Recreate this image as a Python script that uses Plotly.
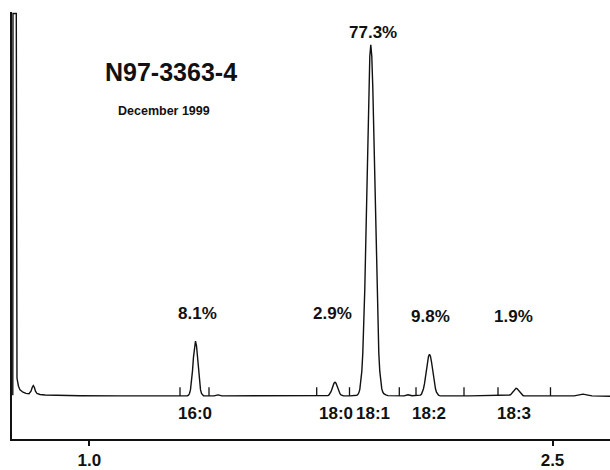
import plotly.graph_objects as go

# ---- Chromatogram trace (retention time in min, detector response in arbitrary units) ----
time_min = [
    0.7523, 0.7529, 0.7636, 0.7642, 0.7659, 0.7707, 0.7756, 0.7853, 0.7950, 0.8047,
    0.8112, 0.8154, 0.8187, 0.8219, 0.8258, 0.8306, 0.8403, 0.8565, 0.9051, 0.9699,
    1.0994, 1.1966, 1.3148,
    # 16:0
    1.3180, 1.3212, 1.3245, 1.3277, 1.3310, 1.3342, 1.3374, 1.3407, 1.3439, 1.3472,
    1.3504, 1.3536, 1.3569, 1.3601, 1.3634, 1.3666, 1.3698,
    1.4038, 1.4168, 1.4297, 1.5852, 1.6823, 1.7697,
    # 18:0
    1.7730, 1.7762, 1.7795, 1.7827, 1.7859, 1.7892, 1.7924, 1.7957, 1.7989, 1.8021,
    1.8054, 1.8086, 1.8118, 1.8151, 1.8183, 1.8232, 1.8442, 1.8604,
    # 18:1
    1.8663, 1.8695, 1.8728, 1.8760, 1.8792, 1.8825, 1.8857, 1.8889, 1.8922, 1.8954,
    1.8987, 1.9019, 1.9051, 1.9084, 1.9116, 1.9148, 1.9181, 1.9213, 1.9246, 1.9278,
    1.9310, 1.9343, 1.9375, 1.9407, 1.9440, 1.9472, 1.9505, 1.9537, 1.9602, 1.9673,
    2.0191, 2.0320, 2.0450,
    # 18:2
    2.0693, 2.0725, 2.0758, 2.0790, 2.0822, 2.0855, 2.0887, 2.0920, 2.0952, 2.0984,
    2.1017, 2.1049, 2.1081, 2.1114, 2.1146, 2.1179, 2.1211, 2.1243, 2.1276, 2.1308,
    2.1341, 2.1389, 2.2328,
    # 18:3
    2.3559, 2.3591, 2.3624, 2.3656, 2.3688, 2.3721, 2.3753, 2.3786, 2.3818, 2.3850,
    2.3883, 2.3915, 2.3947, 2.3980, 2.4012, 2.4045, 2.4077, 2.4126,
    2.5243, 2.5697, 2.5826, 2.5988, 2.6150, 2.6279, 2.6862,
]
response = [
    0.7, 384.2, 384.2, 97.7, 17.7, 9.7, 6.0, 3.7, 2.5, 2.2,
    4.7, 8.7, 10.4, 8.7, 4.7, 2.4, 1.4, 0.9, 0.4, 0.2,
    0.0, 0.0, 0.0,
    0.2, 0.8, 2.4, 6.3, 13.7, 25.2, 38.9, 50.4, 55.0, 50.4,
    38.9, 25.2, 13.7, 6.3, 2.4, 0.8, 0.2,
    0.0, 1.0, 0.0, 0.0, 0.0, 0.0,
    0.4, 1.0, 2.2, 4.2, 7.0, 10.2, 12.7, 13.7, 12.7, 10.2,
    7.0, 4.2, 2.2, 1.0, 0.4, 0.0, 0.0, 0.3,
    0.6, 1.4, 3.1, 6.6, 13.2, 24.6, 43.0, 70.5, 108.0, 155.0,
    208.5, 262.4, 309.2, 341.3, 352.7, 341.3, 309.2, 262.4, 208.5, 155.0,
    108.0, 70.5, 43.0, 24.6, 13.2, 7.0, 3.8, 2.2, 1.0, 0.3,
    0.0, 1.2, 0.2,
    0.3, 0.8, 1.8, 3.8, 7.2, 12.3, 19.1, 26.9, 34.3, 39.7,
    41.7, 39.7, 34.3, 26.9, 19.1, 12.3, 7.2, 3.8, 1.8, 0.8,
    0.3, 0.0, 0.0,
    0.2, 0.4, 0.9, 1.7, 3.0, 4.5, 6.1, 7.3, 7.7, 7.3,
    6.1, 4.5, 3.0, 1.7, 0.9, 0.4, 0.2, 0.0,
    0.0, 0.0, 0.8, 1.8, 0.8, 0.0, -0.3,
]

# integration event marks on the baseline
event_times = [1.2937, 1.3876, 1.7364, 1.8426, 2.0039, 2.0580, 2.2134, 2.3235, 2.4935]
event_height = 8.7

# peak names and percentages
peak_names = ["16:0", "18:0", "18:1", "18:2", "18:3"]
name_times = [1.3423, 1.7973, 1.9203, 2.1000, 2.3753]
name_level = -17.8
pct_labels = ["8.1%", "2.9%", "77.3%", "9.8%", "1.9%"]
pct_times = [1.3488, 1.7860, 1.9187, 2.1033, 2.3721]
pct_levels = [82.7, 82.7, 365.0, 79.7, 79.7]

sample_title = "N97-3363-4"
sample_date = "December 1999"

x_ticks = [1.0, 2.5]
x_tick_text = ["1.0", "2.5"]

INK = "#111111"
FONT = "Liberation Sans, Arial, sans-serif"

fig = go.Figure()
fig.add_trace(go.Scatter(
    x=time_min, y=response, mode="lines",
    line=dict(color=INK, width=1.4), hoverinfo="skip", showlegend=False,
))

ex, ey = [], []
for t in event_times:
    ex += [t, t, None]
    ey += [0, event_height, None]
fig.add_trace(go.Scatter(
    x=ex, y=ey, mode="lines", line=dict(color=INK, width=1.3),
    hoverinfo="skip", showlegend=False,
))

for name, t in zip(peak_names, name_times):
    fig.add_annotation(x=t, y=name_level, text=name, showarrow=False,
                       xanchor="center", yanchor="middle",
                       font=dict(family=FONT, size=17, color=INK, weight="bold"))
for lab, t, lv in zip(pct_labels, pct_times, pct_levels):
    fig.add_annotation(x=t, y=lv, text=lab, showarrow=False,
                       xanchor="center", yanchor="middle",
                       font=dict(family=FONT, size=17, color=INK, weight="bold"))

fig.add_annotation(x=1.263, y=325.7, text=sample_title, showarrow=False,
                   xanchor="center", yanchor="middle",
                   font=dict(family=FONT, size=25, color=INK, weight="bold"))
fig.add_annotation(x=1.2435, y=286.7, text=sample_date, showarrow=False,
                   xanchor="center", yanchor="middle",
                   font=dict(family=FONT, size=12.5, color=INK, weight="bold"))

fig.update_layout(
    width=610, height=470,
    margin=dict(l=12, r=0, t=12, b=29),
    paper_bgcolor="white", plot_bgcolor="white",
    showlegend=False,
    xaxis=dict(range=[0.7497, 2.6862], showgrid=False, zeroline=False,
               showline=True, linecolor=INK, linewidth=2,
               ticks="outside", ticklen=5, tickwidth=1.5, tickcolor=INK,
               tickvals=x_ticks, ticktext=x_tick_text,
               tickfont=dict(family=FONT, size=17, color=INK, weight="bold")),
    yaxis=dict(range=[-43.3, 385.7], showgrid=False, zeroline=False,
               showline=True, linecolor=INK, linewidth=2,
               showticklabels=False, ticks=""),
)

fig.write_html("out.html", config={"displayModeBar": False},
               post_script="document.body.style.margin='0';")
